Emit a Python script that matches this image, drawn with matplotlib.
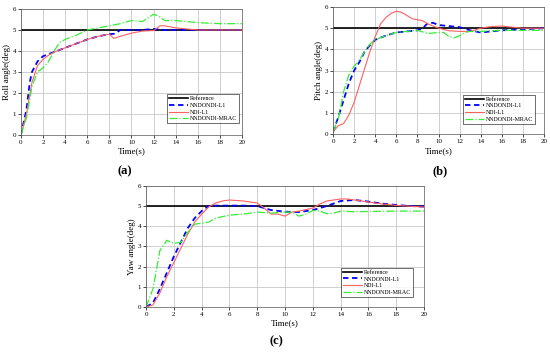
import matplotlib

matplotlib.use("Agg")
import matplotlib.pyplot as plt

plt.rcParams["font.family"] = ["Liberation Serif", "DejaVu Serif"]

REFERENCE_VALUE = 5.0
series_labels = ["Reference", "NNDONDI-L1", "NDI-L1", "NNDONDI-MRAC"]
x_ticks = [0, 2, 4, 6, 8, 10, 12, 14, 16, 18, 20]
y_ticks = [0, 1, 2, 3, 4, 5, 6]

# (a) roll
roll_t_blue = [0, 0.5, 0.8, 1, 1.5, 2, 3, 4, 5, 6, 7, 8, 8.5, 9, 10, 11, 12, 13, 14, 16, 18, 20]
roll_blue = [0, 1.2, 2.5, 3.0, 3.5, 3.75, 3.95, 4.15, 4.35, 4.55, 4.7, 4.8, 4.82, 5.0, 5.0, 5.0, 5.05, 5.0, 5.0, 5.0, 5.0, 5.0]
roll_t_red = [0, 0.5, 1, 1.5, 2, 2.5, 3, 4, 5, 6, 7, 8, 8.4, 9, 10, 11, 12, 12.6, 13, 14, 15, 16, 18, 20]
roll_red = [0, 1.0, 2.5, 3.3, 3.6, 3.8, 3.95, 4.15, 4.35, 4.55, 4.7, 4.8, 4.6, 4.7, 4.85, 4.95, 4.97, 5.2, 5.2, 5.1, 5.05, 5.0, 5.0, 5.0]
roll_t_green = [0, 0.5, 1, 1.5, 2, 2.5, 3, 3.5, 4, 5, 6, 7, 8, 9, 10, 11, 12, 12.5, 13, 14, 15, 16, 18, 20]
roll_green = [0, 0.8, 2.3, 3.0, 3.2, 3.5, 4.0, 4.4, 4.55, 4.75, 5.0, 5.1, 5.2, 5.3, 5.45, 5.4, 5.75, 5.65, 5.45, 5.45, 5.4, 5.35, 5.3, 5.3]

# (b) pitch
pitch_t_blue = [0, 0.5, 1, 1.5, 2, 2.5, 3, 3.5, 4, 5, 6, 7, 8, 8.5, 9, 9.5, 10, 11, 12, 13, 14, 15, 16, 18, 20]
pitch_blue = [0.1, 0.8, 1.6, 2.4, 3.0, 3.4, 3.9, 4.2, 4.45, 4.65, 4.8, 4.85, 4.9, 5.0, 5.25, 5.25, 5.15, 5.1, 5.05, 4.9, 4.8, 4.85, 4.9, 4.95, 5.0]
pitch_t_red = [0, 0.5, 1, 1.5, 2, 2.5, 3, 3.5, 4, 4.5, 5, 5.5, 6, 6.5, 7, 7.5, 8, 8.5, 9, 9.5, 10, 11, 12, 13, 14, 15, 16, 17, 18, 20]
pitch_red = [0.1, 0.4, 0.5, 0.9, 1.5, 2.3, 3.1, 3.9, 4.6, 5.2, 5.5, 5.7, 5.8, 5.75, 5.6, 5.45, 5.4, 5.35, 5.2, 5.1, 5.0, 4.88, 4.85, 4.85, 5.0, 5.08, 5.1, 5.05, 5.0, 5.0]
pitch_t_green = [0, 0.5, 1, 1.5, 2, 2.5, 3, 3.5, 4, 5, 6, 7, 8, 9, 10, 10.5, 11, 11.5, 12, 12.5, 13, 14, 16, 18, 20]
pitch_green = [0.1, 0.7, 2.0, 2.8, 3.2, 3.5, 3.9, 4.25, 4.45, 4.65, 4.8, 4.85, 4.9, 4.75, 4.8, 4.8, 4.6, 4.55, 4.65, 4.8, 4.85, 4.85, 4.9, 4.9, 4.9]

# (c) yaw
yaw_t_blue = [0, 0.5, 1, 1.5, 2, 2.5, 3, 3.5, 4, 4.5, 5, 6, 7, 8, 8.5, 9, 10, 11, 12, 13, 14, 15, 16, 17, 18, 19, 20]
yaw_blue = [0, 0.2, 0.9, 1.7, 2.5, 3.2, 3.9, 4.4, 4.75, 5.0, 5.02, 5.02, 5.02, 5.0, 4.9, 4.8, 4.72, 4.7, 4.8, 5.0, 5.25, 5.3, 5.22, 5.12, 5.05, 5.0, 4.97]
yaw_t_red = [0, 0.5, 1, 1.5, 2, 2.5, 3, 3.5, 4, 4.5, 5, 5.5, 6, 7, 8, 8.5, 9, 9.5, 10, 10.5, 11, 12, 12.5, 13, 14, 14.5, 15, 16, 17, 18, 20]
yaw_red = [0, 0.1, 0.7, 1.5, 2.2, 2.9, 3.6, 4.2, 4.6, 4.95, 5.15, 5.25, 5.3, 5.25, 5.15, 4.9, 4.6, 4.6, 4.5, 4.7, 4.75, 4.9, 5.1, 5.25, 5.35, 5.35, 5.3, 5.2, 5.1, 5.03, 4.95]
yaw_t_green = [0, 0.5, 1, 1.5, 2, 2.5, 3, 3.5, 4, 4.5, 5, 6, 7, 8, 9, 10, 10.5, 11, 11.5, 12, 12.5, 13, 13.5, 14, 15, 16, 18, 20]
yaw_green = [0, 0.9, 2.8, 3.3, 3.15, 3.2, 3.7, 4.1, 4.15, 4.2, 4.4, 4.55, 4.6, 4.7, 4.65, 4.7, 4.7, 4.5, 4.6, 4.78, 4.75, 4.62, 4.65, 4.75, 4.72, 4.73, 4.75, 4.75]


def draw_panel(ax, blue, red, green, ylabel, legend_anchor):
    ax.axhline(REFERENCE_VALUE, color="black", lw=1.2, label=series_labels[0])
    ax.plot(*blue, color="blue", ls=(0, (3, 2)), lw=1.3, label=series_labels[1])
    ax.plot(*red, color="#ff6060", lw=0.8, label=series_labels[2])
    ax.plot(*green, color="#33ee33", ls="-.", lw=0.9, label=series_labels[3])
    ax.set_xlim(0, 20)
    ax.set_ylim(0, 6)
    ax.set_xticks(x_ticks)
    ax.set_yticks(y_ticks)
    ax.tick_params(labelsize=5, length=2, width=0.5, pad=1.5)
    ax.grid(color="#c8c8c8", lw=0.6)
    for sp in ax.spines.values():
        sp.set_linewidth(0.5)
        sp.set_color("#555555")
    ax.set_xlabel("Time(s)", fontsize=6.5, labelpad=2)
    ax.set_ylabel(ylabel, fontsize=6.5, labelpad=1)
    leg = ax.legend(loc="lower right", bbox_to_anchor=legend_anchor, fontsize=4.3,
                    fancybox=False, edgecolor="black", handlelength=3.2,
                    borderpad=0.3, labelspacing=0.25, handletextpad=0.3)
    leg.get_frame().set_linewidth(0.5)


fig = plt.figure(figsize=(5.5, 3.52), dpi=100)
ax_a = fig.add_axes([0.038, 0.6165, 0.402, 0.358])
ax_b = fig.add_axes([0.6055, 0.619, 0.3836, 0.361])
ax_c = fig.add_axes([0.2655, 0.128, 0.5055, 0.344])

draw_panel(ax_a, (roll_t_blue, roll_blue), (roll_t_red, roll_red), (roll_t_green, roll_green),
           "Roll angle(deg)", (1.0, 0.07))
draw_panel(ax_b, (pitch_t_blue, pitch_blue), (pitch_t_red, pitch_red), (pitch_t_green, pitch_green),
           "Pitch angle(deg)", (0.97, 0.06))
draw_panel(ax_c, (yaw_t_blue, yaw_blue), (yaw_t_red, yaw_red), (yaw_t_green, yaw_green),
           "Yaw angle(deg)", (0.97, 0.06))

fig.text(0.227, 0.514, "(a)", fontsize=9, fontweight="bold", ha="center", va="center")
fig.text(0.8, 0.514, "(b)", fontsize=9, fontweight="bold", ha="center", va="center")
fig.text(0.502, 0.031, "(c)", fontsize=9, fontweight="bold", ha="center", va="center")

fig.savefig("out.png", dpi=100)
